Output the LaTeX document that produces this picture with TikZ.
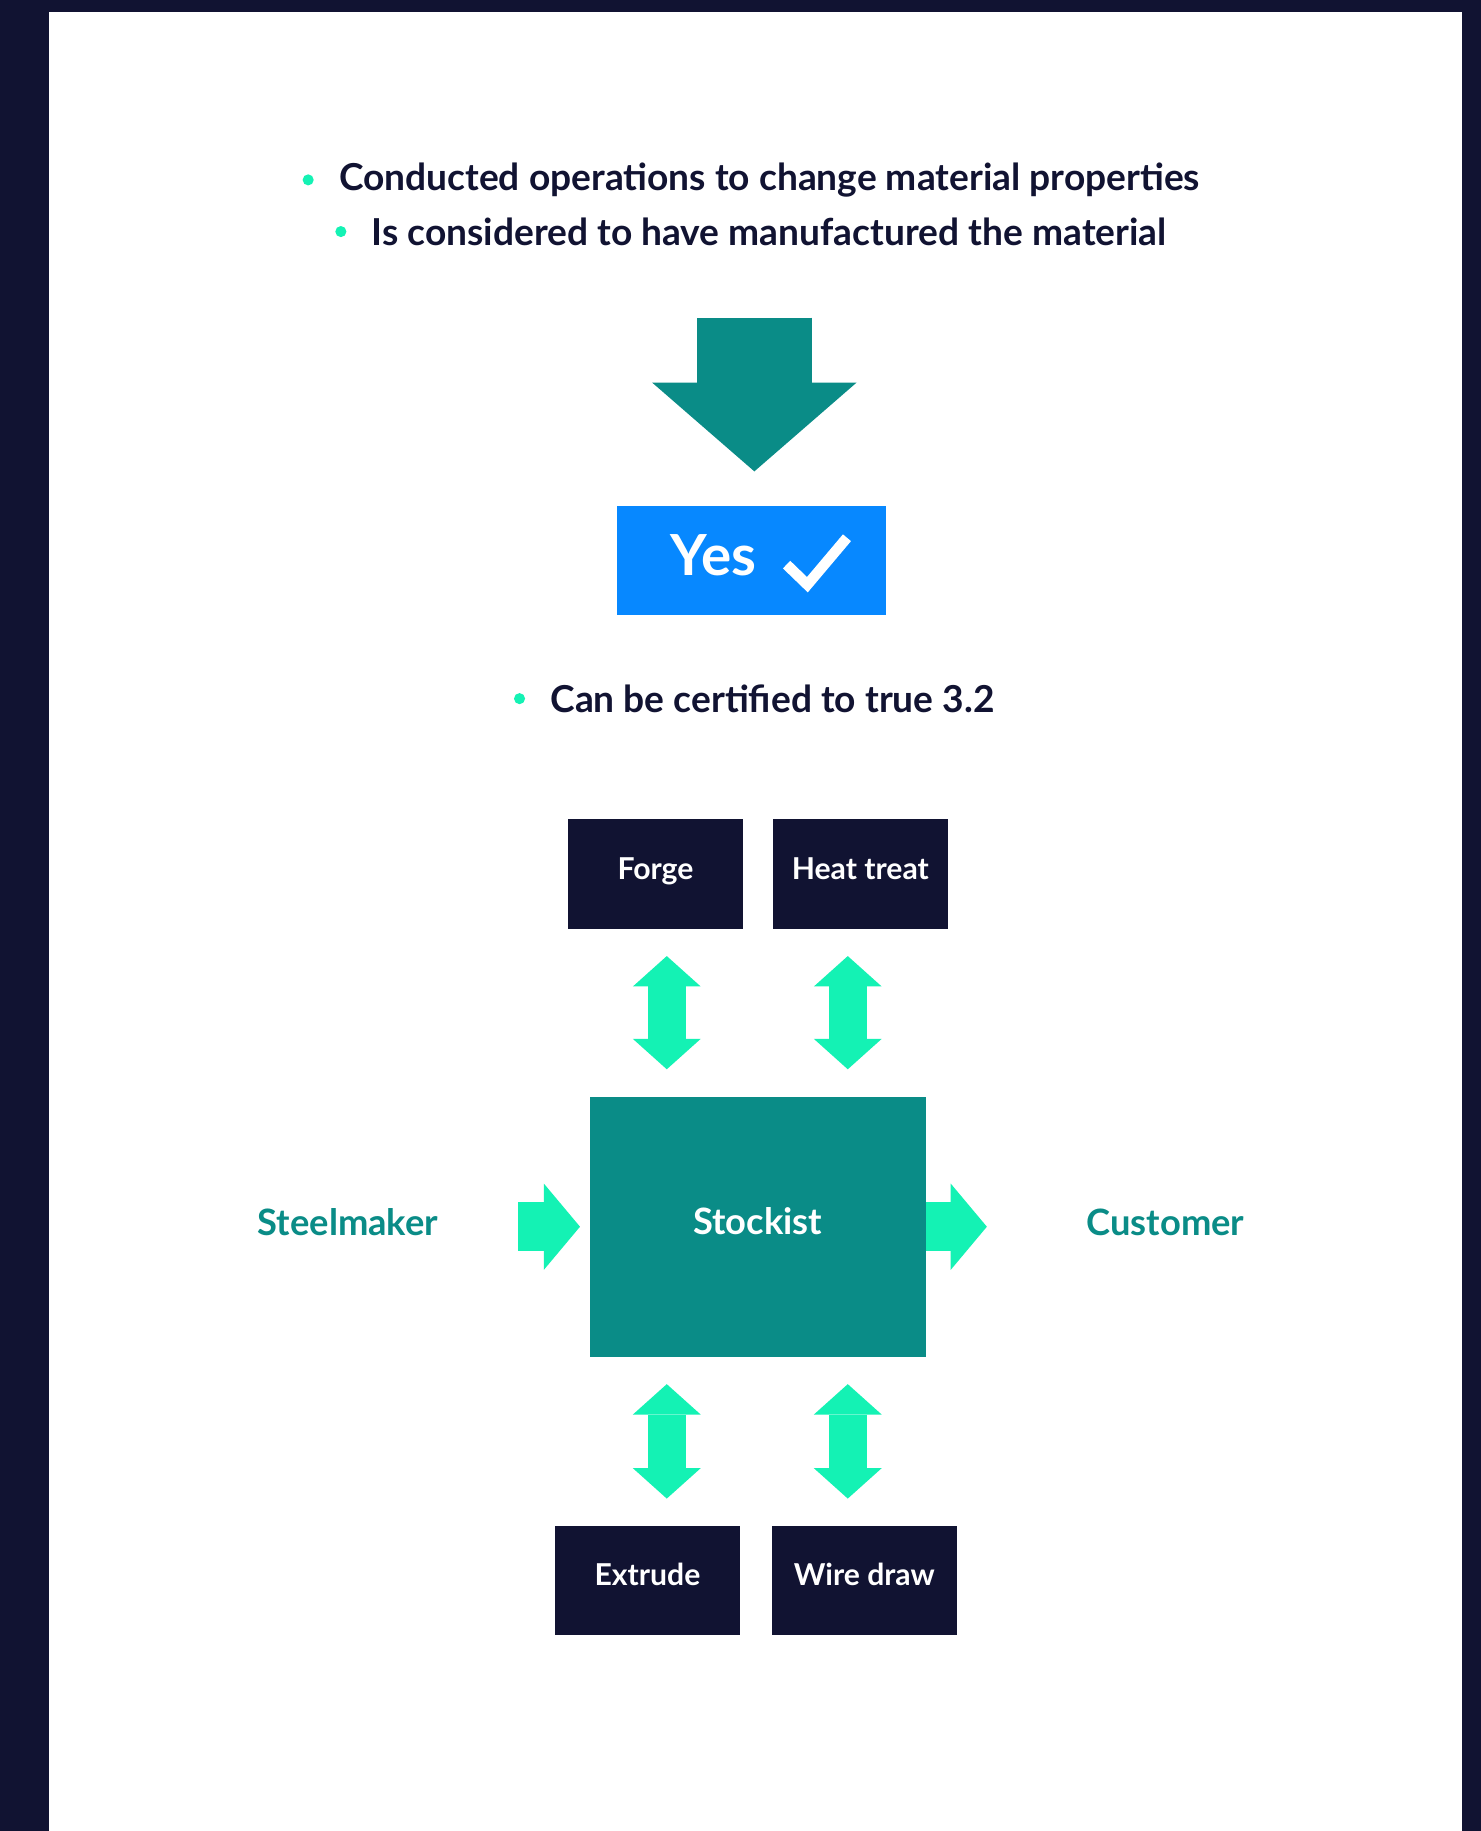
\documentclass[tikz,border=0pt]{standalone}
\usepackage{fontspec}
\setmainfont{Lato}
\usepackage{tikz}
\usetikzlibrary{arrows.meta,calc,positioning}
\definecolor{navy}{HTML}{111332}
\definecolor{darkteal}{HTML}{0A8C87}
\definecolor{mint}{HTML}{14F2B4}
\definecolor{yesblue}{HTML}{0788FF}
\tikzset{
    x=0.02cm, y=-0.02cm, node distance =0.5cm and 0.5cm,
    bullet/.style ={inner sep=0pt, anchor=base west, text=navy, font=\bfseries\fontsize{18.1}{22}\selectfont},
    point/.style = {circle, fill=mint, inner sep=0pt, minimum size=0.19cm, node contents={}},
    op/.style = {fill=navy, text=white, inner sep=0pt, minimum height=1.88cm, text height=12pt, text depth=7pt, font=\bfseries\fontsize{14.7}{18}\selectfont},
    party/.style = {inner sep=0pt, anchor=base, text=darkteal, font=\bfseries\fontsize{17.7}{21}\selectfont},
    bigflow/.style={draw=darkteal, line width=1.98cm, -{Triangle[length=1.52cm, width=3.5cm, line width=0pt]}},
    flow/.style={draw=mint, line width=0.84cm, -{Triangle[length=0.62cm, width=1.48cm, line width=0pt]}},
    twoway/.style={draw=mint, line width=0.66cm, {Triangle[length=0.52cm, width=1.16cm, line width=0pt]}-{Triangle[length=0.52cm, width=1.16cm, line width=0pt]}, shorten <=0.46cm, shorten >=0.46cm}
}
\begin{document}
\begin{tikzpicture}
    % frame
    \fill[navy] (0,0) rectangle (1268,1568);
    \fill[white] (42,10.3) rectangle (1251.7,1568);
    \useasboundingbox (0,0) rectangle (1268,1568);

    \node[bullet] (1) at (290,163) {Conducted operations to change material properties};
    \node (p1) [point, left = 0.42cm of 1];
    \node[bullet] (2) at (318,210) {Is considered to have manufactured the material};
    \node (p2) [point, left = 0.42cm of 2];
    \node[bullet] (3) at (471,610) {Can be certified to true 3.2};
    \node (p3) [point, left = 0.42cm of 3];

    % yes box
    \coordinate (c1) at (646,272);
    \node[fill=yesblue, minimum width=4.62cm, minimum height=1.88cm] (4) at (643.5,480) {};
    \node[inner sep=0pt, anchor=base west, text=white, font=\bfseries\fontsize{27.6}{32}\selectfont] (5) at (574,493) {Yes};
    \draw[white, line width=0.18cm] (673.6,483.5) -- (691.4,500.7) -- (725.3,460.5);
    \path (c1) edge[bigflow, shorten >=0.58cm] (c1 |- 4.north);

    \node[op, minimum width=2.99cm] (6) at (561.3,748.4) {Forge};
    \node[op, minimum width=3cm] (7) [right = 0.5cm of 6] {Heat treat};
    \node[op, fill=darkteal, minimum width=5.76cm, minimum height=4.46cm, text height=14pt, text depth=6.4pt, font=\bfseries\fontsize{17.7}{21}\selectfont] (8) at (649,1050.5) {Stockist};
    \node[op, minimum width=3.17cm, minimum height=1.87cm] (9) at (554.5,1353.4) {Extrude};
    \node[op, minimum width=3.17cm, minimum height=1.87cm] (10) [right = 0.53cm of 9] {Wire draw};
    \node[party] (11) at (298,1058) {Steelmaker};
    \node[party] (12) at (998,1058) {Customer};

    \coordinate (a1) at ($(8.north)+(-78,0)$);
    \coordinate (a2) at ($(8.north)+(77,0)$);
    \coordinate (a3) at ($(8.south)+(-78,0)$);
    \coordinate (a4) at ($(8.south)+(77,0)$);
    \path (a1) edge[twoway] (a1 |- 6.south)
          (a2) edge[twoway] (a2 |- 7.south)
          (a3) edge[twoway] (a3 |- 9.north)
          (a4) edge[twoway] (a4 |- 10.north);
    \path (11.east |- 8.west) edge[flow, shorten <=1.36cm, shorten >=0.16cm] (8.west);
    \path (8.east) edge[flow, shorten >=1.7cm] (12.west |- 8.east);
\end{tikzpicture}
\end{document}
